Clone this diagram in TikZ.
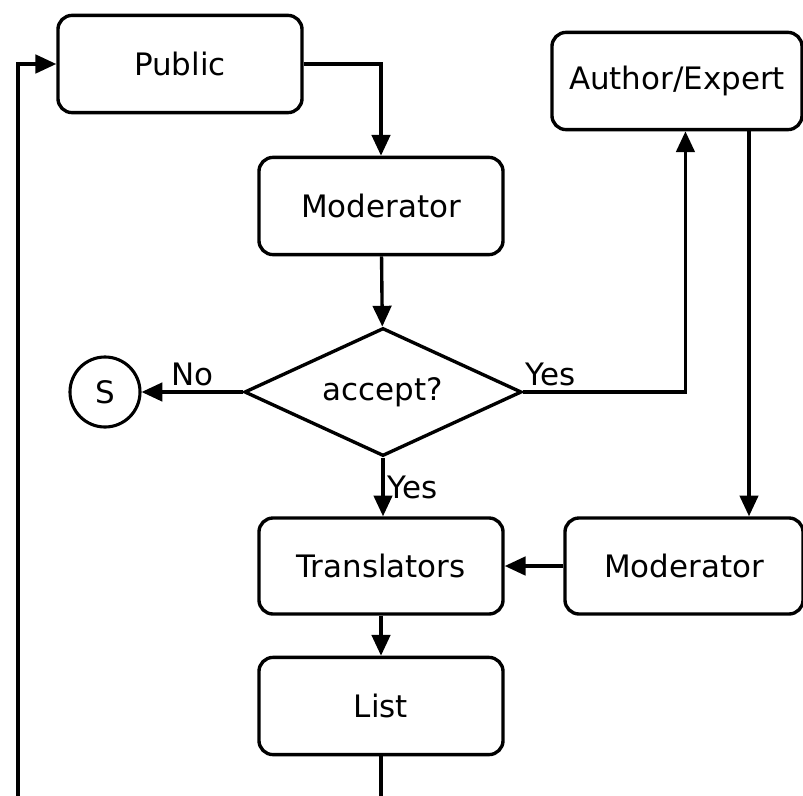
\documentclass[tikz,border=0pt]{standalone}
\usepackage{fontspec}
\setmainfont{DejaVu Sans}
\usetikzlibrary{shapes.geometric, arrows.meta, positioning}

\tikzset{
  flowbox/.style={draw, line width=2.4pt, rounded corners=10pt, minimum width=6.1cm, minimum height=2.43cm, inner sep=0pt},
  decision/.style={draw, diamond, line width=2.4pt, aspect=2, minimum width=6.93cm, minimum height=3.2cm, inner sep=0pt},
  stopnode/.style={draw, circle, line width=2.2pt, minimum size=1.75cm, inner sep=0pt},
  flowline/.style={line width=2.4pt, -{Triangle[length=0.52cm, width=0.46cm]}},
}

\begin{document}
\begin{tikzpicture}[x=0.025cm, y=-0.025cm, font=\fontsize{22}{26}\selectfont]

        \path [use as bounding box, clip] (0,0) rectangle (803,796);

        \node [flowbox] (public) at (180,64) {Public};
        \node [flowbox] (moderator-1) at (381,206) {Moderator};
        \node [flowbox, minimum width=6.25cm] (author) at (677,81) {Author/Expert};
        \node [decision] (accept) at (383,392) {accept?};
        \node [stopnode] (stop) at (105,392) {S};
        \node [flowbox, minimum height=2.4cm] (translators) at (381,566) {Translators};
        \node [flowbox, minimum width=5.95cm, minimum height=2.4cm] (moderator-2) at (684,566) {Moderator};
        \node [flowbox] (list) at (381,706) {List};

        \coordinate (down) at (749,0);
        \coordinate (loop) at (18,840);

        \draw [flowline] (public.east) -| (moderator-1.north);
        \draw [flowline] (moderator-1) -- (accept);
        \draw [flowline] (accept.west) -- (stop.east)
          node [above, midway] {No};
        \draw [flowline] (accept.east) -| ([xshift=6]author.south)
          node [above, pos=0.085] {Yes};
        \draw [flowline] (author.south -| down) -- (moderator-2.north -| down);
        \draw [flowline] (accept.south) -- (translators.north -| accept.south)
          node [right, midway, inner sep=2pt] {Yes};
        \draw [flowline] (moderator-2) -- (translators);
        \draw [flowline] (translators) -- (list);
        \draw [flowline] (list.south) -- (list.south |- loop) -| (loop) |- (public.west);

\end{tikzpicture}
\end{document}
